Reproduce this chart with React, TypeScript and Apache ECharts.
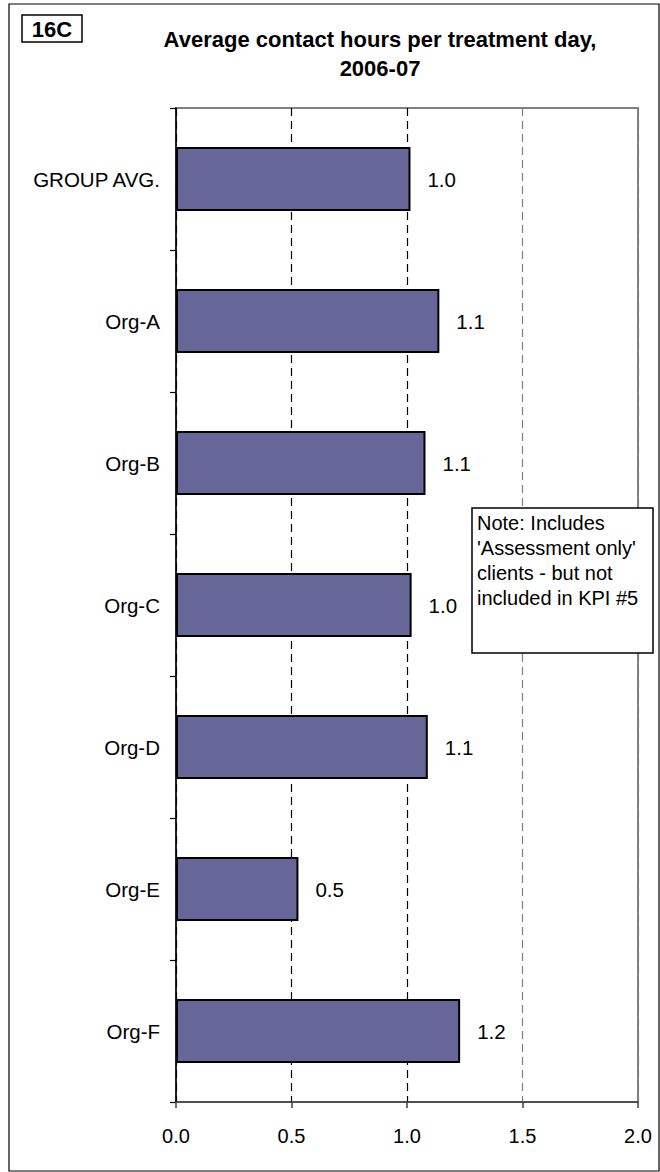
import React, { useEffect, useRef } from "react";
import * as echarts from "echarts";

const categories = ["GROUP AVG.", "Org-A", "Org-B", "Org-C", "Org-D", "Org-E", "Org-F"];
const values = [1.015, 1.14, 1.08, 1.02, 1.09, 0.53, 1.23];
const xTicks = [0, 0.5, 1.0, 1.5, 2.0];
const titleLines = ["Average contact hours per treatment day,", "2006-07"];
const badge = "16C";
const noteLines = ["Note: Includes", "'Assessment only'", "clients - but not", "included in KPI #5"];

const FONT = "Arial, 'Liberation Sans', sans-serif";

export default function App() {
  const ref = useRef<HTMLDivElement>(null);
  useEffect(() => {
    if (!ref.current) return;
    const chart = echarts.init(ref.current, null, { renderer: "svg" });
    chart.setOption({
      animation: false,
      backgroundColor: "#fff",
      grid: {
        left: 176,
        right: 22,
        top: 108,
        bottom: 70,
        show: true,
        borderColor: "#808080",
        borderWidth: 2,
        backgroundColor: "transparent",
      },
      xAxis: {
        type: "value",
        min: xTicks[0],
        max: xTicks[xTicks.length - 1],
        interval: 0.5,
        axisLine: { show: true, lineStyle: { color: "#404040", width: 1.5 } },
        axisTick: { show: true, length: 6, lineStyle: { color: "#404040", width: 1.5 } },
        axisLabel: {
          fontSize: 20,
          fontFamily: FONT,
          color: "#000",
          margin: 24,
          formatter: (v: number) => v.toFixed(1),
        },
        splitLine: {
          show: true,
          lineStyle: {
            type: [8, 5],
            width: 1.2,
            color: ["#000", "#000", "#000", "#808080", "#808080"],
          },
        },
      },
      yAxis: {
        type: "category",
        data: categories,
        inverse: true,
        axisLine: { show: true, lineStyle: { color: "#000", width: 1.5 } },
        axisTick: { show: true, length: 6, lineStyle: { color: "#000", width: 1.2 } },
        axisLabel: { fontSize: 20.5, fontFamily: FONT, color: "#000", margin: 16 },
        splitLine: { show: false },
      },
      series: [
        {
          type: "bar",
          data: values,
          barWidth: 64,
          itemStyle: { color: "#666699", borderColor: "#000", borderWidth: 2 },
          label: {
            show: true,
            position: "right",
            distance: 17,
            fontSize: 20.5,
            fontFamily: FONT,
            color: "#000",
            formatter: (p: any) => Number(p.value).toFixed(1),
          },
        },
      ],
      graphic: [
        {
          type: "rect",
          shape: { x: 9, y: 4, width: 650, height: 1167 },
          style: { fill: "none", stroke: "#000", lineWidth: 1.2 },
          silent: true,
        },
        {
          type: "rect",
          shape: { x: 22, y: 15, width: 60, height: 27 },
          style: { fill: "#fff", stroke: "#000", lineWidth: 1.5 },
        },
        {
          type: "text",
          x: 52,
          y: 29,
          style: {
            text: badge,
            font: `bold 22px ${FONT}`,
            fill: "#000",
            textAlign: "center",
            textVerticalAlign: "middle",
          },
        },
        {
          type: "text",
          x: 380,
          y: 25,
          style: {
            text: titleLines.join("\n"),
            font: `bold 22px ${FONT}`,
            lineHeight: 29,
            fill: "#000",
            textAlign: "center",
            textVerticalAlign: "top",
          },
        },
        {
          type: "rect",
          z: 100,
          shape: { x: 472, y: 508, width: 181, height: 145 },
          style: { fill: "#fff", stroke: "#000", lineWidth: 1.5 },
        },
        {
          type: "text",
          z: 101,
          x: 477,
          y: 510,
          style: {
            text: noteLines.join("\n"),
            font: `20px ${FONT}`,
            lineHeight: 25,
            fill: "#000",
            textAlign: "left",
            textVerticalAlign: "top",
          },
        },
      ],
    });
    return () => chart.dispose();
  }, []);
  return (
    <div
      ref={ref}
      style={{ position: "fixed", left: 0, top: 0, width: 660, height: 1172, background: "#fff" }}
    />
  );
}
